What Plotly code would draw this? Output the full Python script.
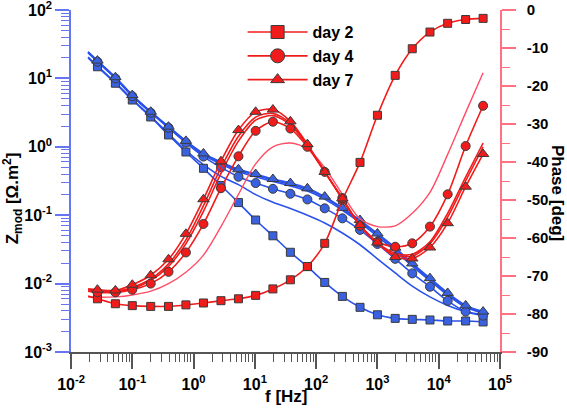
import plotly.graph_objects as go

# ---------------- data ----------------
freq = [0.027, 0.053, 0.1, 0.2, 0.39, 0.75, 1.45, 2.8, 5.4, 10.3, 19.7, 38, 72,
        138, 268, 520, 1000, 1950, 3700, 7200, 14000, 27500, 53000]
fit_freq = [0.019] + freq

# impedance modulus [Ohm.m2]
z_day2 = [14.8, 8.5, 4.83, 2.73, 1.49, 0.84, 0.485, 0.272, 0.153, 0.085, 0.050, 0.0287,
          0.0177, 0.0104, 0.0065, 0.0045, 0.0035, 0.0031, 0.0030, 0.00294, 0.00284,
          0.00284, 0.00275]
z_day4 = [17.5, 10.0, 5.5, 3.15, 1.9, 1.15, 0.72, 0.50, 0.365, 0.295, 0.243, 0.206, 0.170,
          0.126, 0.090, 0.061, 0.038, 0.023, 0.0141, 0.0090, 0.0056, 0.0039, 0.0034]
z_day7 = [18.2, 10.4, 5.7, 3.26, 1.97, 1.22, 0.80, 0.60, 0.469, 0.40, 0.338, 0.295, 0.247,
          0.187, 0.128, 0.085, 0.054, 0.0335, 0.0197, 0.0120, 0.0073, 0.0048, 0.0039]
z_extra_low = [15.2, 8.7, 4.95, 2.8, 1.55, 0.88, 0.55, 0.37, 0.28, 0.20, 0.155, 0.125, 0.100,
               0.077, 0.055, 0.037, 0.023, 0.0143, 0.0092, 0.0064, 0.0048, 0.0039, 0.0035]
z_extra_a = [17.8, 10.2, 5.6, 3.2, 1.93, 1.18, 0.76, 0.56, 0.43, 0.365, 0.31, 0.268, 0.225,
             0.172, 0.118, 0.078, 0.049, 0.030, 0.0180, 0.0110, 0.0068, 0.0045, 0.0037]
z_extra_b = [18.0, 10.3, 5.65, 3.22, 1.95, 1.2, 0.78, 0.58, 0.45, 0.385, 0.325, 0.282, 0.238,
             0.181, 0.124, 0.082, 0.052, 0.032, 0.0190, 0.0116, 0.0071, 0.0047, 0.0038]
z_start = {"day2": 20.0, "day4": 23.5, "day7": 24.5, "low": 20.5, "a": 24.0, "b": 24.2}

# phase [deg]
ph_day2 = [-76.0, -77.3, -77.8, -78.0, -78.0, -77.6, -77.1, -76.5, -76.0, -75.1, -73.4, -71.0,
           -67.5, -61.4, -50.0, -40.1, -27.7, -17.2, -10.2, -5.8, -3.5, -2.5, -2.2]
ph_day4 = [-74.3, -74.3, -73.6, -72.0, -68.9, -63.8, -56.3, -46.9, -38.5, -31.8, -29.4, -31.2,
           -36.0, -42.6, -49.5, -56.8, -61.0, -62.3, -61.4, -57.0, -48.5, -35.8, -25.2]
ph_day7 = [-73.6, -73.8, -72.3, -69.8, -65.6, -58.9, -49.8, -39.8, -31.6, -26.8, -26.2, -29.3,
           -35.3, -42.6, -49.6, -56.6, -61.2, -65.0, -65.4, -62.5, -56.1, -46.5, -37.9]
ph_extra_pink = [-75.6, -75.5, -75.0, -74.0, -72.0, -69.0, -64.5, -57.0, -48.5, -40.5, -36.0,
                 -35.0, -36.5, -41.5, -48.5, -55.0, -57.0, -56.8, -53.5, -48.0, -38.0, -27.0, -16.5]
ph_extra_a = [-73.9, -74.0, -73.0, -70.8, -66.8, -60.5, -51.5, -41.5, -33.2, -28.2, -27.2, -29.8,
              -35.5, -42.5, -49.8, -56.8, -61.5, -64.5, -64.8, -61.5, -54.5, -45.0, -36.0]
ph_extra_b = [-74.1, -74.2, -73.3, -71.2, -67.5, -61.5, -53.0, -43.0, -34.5, -29.0, -27.8, -30.2,
              -35.8, -42.6, -49.7, -56.7, -61.3, -64.0, -64.3, -61.0, -53.5, -44.0, -35.0]
ph_start = {"day2": -75.3, "day4": -74.0, "day7": -73.4, "pink": -75.5, "a": -73.6, "b": -73.8}

x_tickvals = [0.01, 0.1, 1, 10, 100, 1000, 10000, 100000]
x_ticktext = ["10<sup>-2</sup>", "10<sup>-1</sup>", "10<sup>0</sup>", "10<sup>1</sup>",
              "10<sup>2</sup>", "10<sup>3</sup>", "10<sup>4</sup>", "10<sup>5</sup>"]
y_tickvals = [0.001, 0.01, 0.1, 1, 10, 100]
y_ticktext = ["10<sup>-3</sup>", "10<sup>-2</sup>", "10<sup>-1</sup>", "10<sup>0</sup>",
              "10<sup>1</sup>", "10<sup>2</sup>"]
ph_tickvals = [0, -10, -20, -30, -40, -50, -60, -70, -80, -90]
ph_ticktext = ["0", "-10", "-20", "-30", "-40", "-50", "-60", "-70", "-80", "-90"]
legend_names = ["day 2", "day 4", "day 7"]

# ---------------- styles ----------------
RED = "#f01c1c"
PINK = "#ff4d66"
BLUE = "#2a52ea"
BLUE_MK = "#3a62e0"
OUT = "#3a3a3a"
BLUE_AX = "#6675f0"
PINK_AX = "#ff7080"
FONT = "Liberation Sans, Arial, sans-serif"

fig = go.Figure()


def fit_line(x, y, color, yaxis, width=1.6):
    fig.add_trace(go.Scatter(x=x, y=y, mode="lines", yaxis=yaxis, showlegend=False,
                             line=dict(color=color, width=width, shape="spline", smoothing=0.8),
                             hoverinfo="skip"))


def marks(x, y, color, symbol, yaxis, size=8):
    fig.add_trace(go.Scatter(x=x, y=y, mode="markers", yaxis=yaxis, showlegend=False,
                             marker=dict(color=color, symbol=symbol, size=size,
                                         line=dict(color=OUT, width=1))))


# impedance (left axis)
fit_line(fit_freq, [z_start["low"]] + z_extra_low, BLUE, "y")
fit_line(fit_freq, [z_start["a"]] + z_extra_a, BLUE, "y")
fit_line(fit_freq, [z_start["b"]] + z_extra_b, BLUE, "y")
fit_line(fit_freq, [z_start["day2"]] + z_day2, BLUE, "y")
fit_line(fit_freq, [z_start["day4"]] + z_day4, BLUE, "y")
fit_line(fit_freq, [z_start["day7"]] + z_day7, BLUE, "y")
marks(freq, z_day2, BLUE_MK, "square", "y")
marks(freq, z_day4, BLUE_MK, "circle", "y", 9)
marks(freq, z_day7, BLUE_MK, "triangle-up", "y", 10)

# phase (right axis)
fit_line(fit_freq, [ph_start["pink"]] + ph_extra_pink, PINK, "y2", 1.4)
fit_line(fit_freq, [ph_start["a"]] + ph_extra_a, RED, "y2")
fit_line(fit_freq, [ph_start["b"]] + ph_extra_b, RED, "y2")
fit_line(fit_freq, [ph_start["day2"]] + ph_day2, RED, "y2")
fit_line(fit_freq, [ph_start["day4"]] + ph_day4, RED, "y2")
fit_line(fit_freq, [ph_start["day7"]] + ph_day7, RED, "y2")
marks(freq, ph_day2, RED, "square", "y2")
marks(freq, ph_day4, RED, "circle", "y2", 9)
marks(freq, ph_day7, RED, "triangle-up", "y2", 10)

# legend entries
for name, sym, sz in zip(legend_names, ["square", "circle", "triangle-up"], [13, 14, 12]):
    fig.add_trace(go.Scatter(x=[None], y=[None], mode="lines+markers", name=name,
                             line=dict(color=RED, width=1.6),
                             marker=dict(color=RED, symbol=sym, size=sz,
                                         line=dict(color=OUT, width=1))))

tickfont = dict(family=FONT, size=16, color="black", weight="bold")
tickfont_r = dict(family=FONT, size=15, color="black", weight="bold")

fig.update_layout(
    width=567, height=411,
    margin=dict(l=71, r=67, t=10, b=59, autoexpand=False),
    paper_bgcolor="white", plot_bgcolor="white",
    font=dict(family=FONT, color="black"),
    showlegend=True,
    legend=dict(x=0.40, y=0.985, xanchor="left", yanchor="top",
                bgcolor="rgba(0,0,0,0)", borderwidth=0,
                font=dict(family=FONT, size=16, color="black", weight="bold"),
                itemwidth=60, tracegroupgap=0),
    xaxis=dict(type="log", range=[-2, 5], showgrid=False, zeroline=False, automargin=False,
               showline=True, linecolor="#555", linewidth=1.5,
               ticks="outside", ticklen=15, tickwidth=1.5, tickcolor="#555",
               tickvals=x_tickvals, ticktext=x_ticktext, tickfont=tickfont,
               ticklabelstandoff=2, ticklabeloverflow="allow",
               minor=dict(ticks="outside", ticklen=8, tickwidth=1.2, tickcolor="#555",
                          dtick="D1", showgrid=False)),
    yaxis=dict(type="log", range=[-3, 2], showgrid=False, zeroline=False, automargin=False,
               showline=True, linecolor=BLUE_AX, linewidth=1.5,
               ticks="outside", ticklen=14, tickwidth=1.5, tickcolor=BLUE_AX,
               tickvals=y_tickvals, ticktext=y_ticktext, tickfont=tickfont,
               ticklabelstandoff=0, ticklabeloverflow="allow",
               minor=dict(ticks="outside", ticklen=8, tickwidth=1.2, tickcolor=BLUE_AX,
                          dtick="D1", showgrid=False)),
    yaxis2=dict(overlaying="y", side="right", range=[-90, 0], showgrid=False, automargin=False,
                zeroline=False, showline=True, linecolor=PINK_AX, linewidth=1.5,
                ticks="outside", ticklen=14, tickwidth=1.5, tickcolor=PINK_AX,
                tickvals=ph_tickvals, ticktext=ph_ticktext, tickfont=tickfont_r,
                ticklabelstandoff=8, ticklabeloverflow="allow",
                minor=dict(ticks="outside", ticklen=8, tickwidth=1.2, tickcolor=PINK_AX,
                           dtick=5, showgrid=False)),
    annotations=[
        dict(text="f [Hz]", xref="paper", yref="paper", x=0.5, y=-0.131,
             xanchor="center", yanchor="middle", showarrow=False,
             font=dict(family=FONT, size=17, color="black", weight="bold")),
        dict(text="Z<sub>mod</sub> [Ω.m<sup>2</sup>]", xref="paper", yref="paper",
             x=-0.137, y=0.45, xanchor="center", yanchor="middle", textangle=-90,
             showarrow=False,
             font=dict(family=FONT, size=17, color="black", weight="bold")),
        dict(text="Phase [deg]", xref="paper", yref="paper", x=1.133, y=0.465,
             xanchor="center", yanchor="middle", textangle=90, showarrow=False,
             font=dict(family=FONT, size=17, color="black", weight="bold")),
    ],
)

fig.write_html("out.html", config={"displayModeBar": False},
               post_script="document.body.style.margin='0';document.body.style.padding='0';")
